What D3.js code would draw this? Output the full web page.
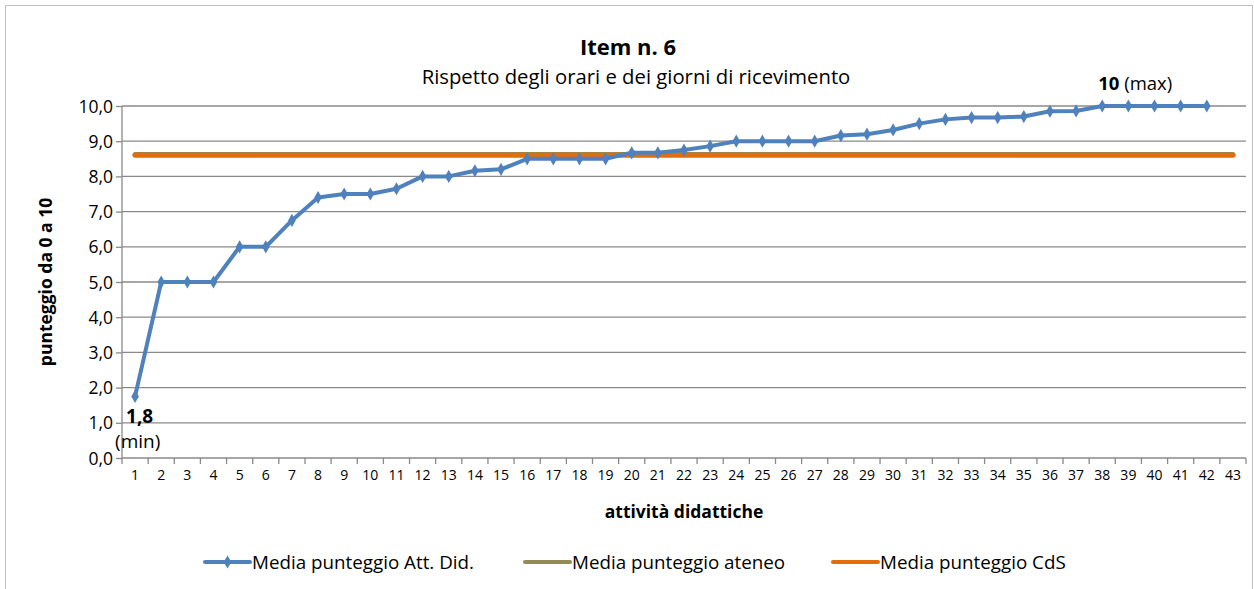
<!DOCTYPE html>
<html><head><meta charset="utf-8">
<script src="https://cdn.jsdelivr.net/npm/d3@7"></script>
<style>
body{margin:0;background:#fff;}
text{font-family:"Open Sans",sans-serif;fill:#000;}
</style></head>
<body><svg id="c" width="1254" height="589"></svg>
<script>
const categories = d3.range(1, 44).map(String);
const attDid = [1.75,5.0,5.0,5.0,6.0,6.0,6.75,7.4,7.5,7.5,7.65,8.0,8.0,8.16,8.2,8.5,8.5,8.5,8.5,8.67,8.67,8.75,8.86,9.0,9.0,9.0,9.0,9.16,9.2,9.32,9.5,9.62,9.67,9.67,9.7,9.85,9.86,10,10,10,10,10];
const mediaAteneo = 8.62;
const mediaCdS = 8.6;
const yTicks = [0,1,2,3,4,5,6,7,8,9,10];
const seriesNames = ["Media punteggio Att. Did.","Media punteggio ateneo","Media punteggio CdS"];
const colors = ["#4F81BD","#948A54","#E46C0A"];

const svg = d3.select("#c");
const L=122, R=1246, T=106, B=458;
svg.append("rect").attr("x",5.5).attr("y",5.5).attr("width",1247).attr("height",600).attr("fill","none").attr("stroke","#bfbfbf");

const x = d3.scaleBand().domain(categories).range([L,R]);
const y = d3.scaleLinear().domain([0,10]).range([B,T]);

// gridlines
svg.append("g").selectAll("line").data(yTicks.slice(1)).join("line")
  .attr("x1",L).attr("x2",R).attr("y1",d=>y(d)).attr("y2",d=>y(d))
  .attr("stroke","#8a8a8a").attr("stroke-width",1.3);

// y axis
const ya = svg.append("g").attr("transform",`translate(${L},0)`)
  .call(d3.axisLeft(y).tickValues(yTicks).tickSize(7).tickPadding(2).tickFormat(d=>d3.format(".1f")(d).replace(".",",")));
ya.select(".domain").attr("stroke","#8a8a8a").attr("stroke-width",1.3).attr("d",`M0,${B}V${T}`);
ya.selectAll(".tick line").attr("stroke","#8a8a8a").attr("stroke-width",1.3).attr("x2",-6);
ya.selectAll("text").attr("font-size",17.5).attr("font-family","Open Sans").attr("fill","#000").attr("dy","0.35em");

// x axis
const xa = svg.append("g").attr("transform",`translate(0,${B})`)
  .call(d3.axisBottom(x).tickSize(0).tickPadding(12));
xa.select(".domain").attr("stroke","#8a8a8a").attr("stroke-width",1.3).attr("d",`M${L},0H${R}`);
xa.selectAll("text").attr("font-size",14).attr("font-family","Open Sans").attr("fill","#000");
svg.append("g").selectAll("line").data(categories.concat(["end"])).join("line")
  .attr("x1",(d,i)=>L+i*x.bandwidth()).attr("x2",(d,i)=>L+i*x.bandwidth())
  .attr("y1",B).attr("y2",B+6).attr("stroke","#8a8a8a").attr("stroke-width",1.3);

const cx = i => x(categories[i]) + x.bandwidth()/2;

// ateneo (hidden underneath) and CdS
const first = cx(0), last = cx(categories.length-1);
svg.append("line").attr("x1",first).attr("x2",last).attr("y1",y(mediaAteneo)).attr("y2",y(mediaAteneo))
  .attr("stroke",colors[1]).attr("stroke-width",5).attr("stroke-linecap","round");
svg.append("line").attr("x1",first).attr("x2",last).attr("y1",y(mediaCdS)).attr("y2",y(mediaCdS))
  .attr("stroke",colors[2]).attr("stroke-width",5).attr("stroke-linecap","round");

// main series
const line = d3.line().x((d,i)=>cx(i)).y(d=>y(d));
svg.append("path").datum(attDid).attr("d",line).attr("fill","none")
  .attr("stroke",colors[0]).attr("stroke-width",4).attr("stroke-linejoin","round");
const diamond = d3.symbol().type(d3.symbolDiamond).size(50);
svg.append("g").selectAll("path").data(attDid).join("path")
  .attr("transform",(d,i)=>`translate(${cx(i)},${y(d)})`).attr("d",diamond).attr("fill",colors[0]);

// min / max labels
const minI = attDid.indexOf(d3.min(attDid));
svg.append("text").attr("x",cx(minI)-9).attr("y",y(attDid[minI])+27).attr("font-size",19).attr("font-weight","bold").text(d3.format(".1f")(attDid[minI]).replace(".",","));
svg.append("text").attr("x",cx(minI)-20).attr("y",y(attDid[minI])+52).attr("font-size",19).text("(min)");
const maxI = attDid.indexOf(d3.max(attDid));
const mt = svg.append("text").attr("x",cx(maxI)-4).attr("y",y(attDid[maxI])-16).attr("font-size",18.5);
mt.append("tspan").attr("font-weight","bold").text(String(d3.max(attDid)));
mt.append("tspan").text(" (max)");

// titles
svg.append("text").attr("x",628).attr("y",55).attr("text-anchor","middle").attr("font-size",22).attr("font-weight","bold").text("Item n. 6");
svg.append("text").attr("x",636).attr("y",84).attr("text-anchor","middle").attr("font-size",20.3).text("Rispetto degli orari e dei giorni di ricevimento");
svg.append("text").attr("transform",`translate(52,${(T+B)/2}) rotate(-90)`).attr("text-anchor","middle").attr("font-size",17.5).attr("font-weight","bold").text("punteggio da 0 a 10");
svg.append("text").attr("x",(L+R)/2).attr("y",518).attr("text-anchor","middle").attr("font-size",17.5).attr("font-weight","bold").text("attività didattiche");

// legend
const legX = [205,525,833];
const lg = svg.append("g");
seriesNames.forEach((n,i)=>{
  const g = lg.append("g").attr("transform",`translate(${legX[i]},562)`);
  g.append("line").attr("x1",0).attr("x2",45).attr("y1",0).attr("y2",0).attr("stroke",colors[i]).attr("stroke-width",4).attr("stroke-linecap","round");
  if(i===0) g.append("path").attr("transform","translate(22.5,0)").attr("d",diamond).attr("fill",colors[0]);
  g.append("text").attr("x",47).attr("y",6.5).attr("font-size",18.8).text(n);
});
</script></body></html>
